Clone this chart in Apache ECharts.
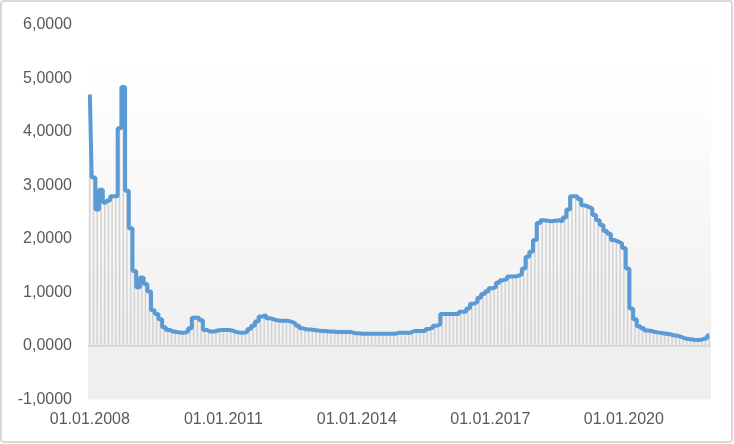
<!DOCTYPE html>
<html>
<head>
<meta charset="utf-8">
<script src="https://cdn.jsdelivr.net/npm/echarts@6/dist/echarts.min.js"></script>
<style>html,body{margin:0;padding:0;background:#fff}#c{width:734px;height:444px}</style>
</head>
<body>
<div id="c"></div>
<script>
// Monthly values, Jan 2008 .. Dec 2021
const startYear = 2008;
const values = [
  // 2008
  4.70, 3.15, 2.55, 2.92, 2.68, 2.72, 2.80, 2.80, 4.07, 4.84, 2.90, 2.20,
  // 2009
  1.40, 1.10, 1.28, 1.16, 1.02, 0.67, 0.60, 0.50, 0.35, 0.30, 0.27, 0.26,
  // 2010
  0.25, 0.25, 0.27, 0.33, 0.53, 0.53, 0.48, 0.30, 0.27, 0.27, 0.29, 0.30,
  // 2011
  0.30, 0.30, 0.29, 0.26, 0.25, 0.25, 0.26, 0.32, 0.38, 0.46, 0.55, 0.58,
  // 2012
  0.52, 0.50, 0.48, 0.47, 0.47, 0.47, 0.45, 0.42, 0.38, 0.33, 0.31, 0.31,
  // 2013
  0.30, 0.29, 0.28, 0.28, 0.27, 0.27, 0.26, 0.26, 0.26, 0.26, 0.26, 0.24,
  // 2014
  0.24, 0.23, 0.23, 0.23, 0.23, 0.23, 0.23, 0.23, 0.23, 0.23, 0.23, 0.25,
  // 2015
  0.25, 0.25, 0.25, 0.28, 0.28, 0.28, 0.28, 0.32, 0.34, 0.38, 0.40, 0.60,
  // 2016
  0.60, 0.60, 0.60, 0.60, 0.64, 0.64, 0.70, 0.79, 0.82, 0.90, 0.97, 1.02,
  // 2017
  1.08, 1.10, 1.18, 1.23, 1.25, 1.30, 1.30, 1.31, 1.34, 1.45, 1.67, 1.76,
  // 2018
  1.98, 2.30, 2.35, 2.34, 2.33, 2.34, 2.35, 2.33, 2.40, 2.55, 2.80, 2.80,
  // 2019
  2.75, 2.63, 2.60, 2.57, 2.45, 2.35, 2.26, 2.15, 2.10, 1.98, 1.95, 1.92,
  // 2020
  1.83, 1.45, 0.70, 0.50, 0.37, 0.33, 0.29, 0.28, 0.26, 0.25, 0.24, 0.23,
  // 2021
  0.22, 0.20, 0.19, 0.17, 0.14, 0.13, 0.12, 0.11, 0.11, 0.13, 0.15, 0.20
];
const yTicks = [-1, 0, 1, 2, 3, 4, 5, 6];

const categories = [];
for (let i = 0; i < values.length; i++) {
  const y = startYear + Math.floor(i / 12);
  const m = (i % 12) + 1;
  categories.push('01.' + (m < 10 ? '0' + m : m) + '.' + y);
}

const chart = echarts.init(document.getElementById('c'), null, {renderer: 'canvas'});
const font = '"Liberation Sans", Arial, sans-serif';
chart.setOption({
  animation: false,
  backgroundColor: '#ffffff',
  graphic: [{
    type: 'rect',
    shape: {x: 1, y: 1, width: 731, height: 441, r: 3},
    style: {fill: 'none', stroke: '#d9d9d9', lineWidth: 2},
    z: 100, silent: true
  }],
  grid: {
    left: 88, right: 23, top: 25, bottom: 44.5,
    show: true, borderWidth: 0,
    backgroundColor: {
      type: 'linear', x: 0, y: 0, x2: 0, y2: 1,
      colorStops: [
        {offset: 0, color: '#ffffff'},
        {offset: 0.1, color: '#ffffff'},
        {offset: 0.857, color: '#f0f0f0'},
        {offset: 0.858, color: '#efefef'},
        {offset: 1, color: '#efefef'}
      ]
    }
  },
  xAxis: {
    type: 'category',
    data: categories,
    boundaryGap: true,
    axisLine: {show: false, onZero: false},
    axisTick: {show: false},
    splitLine: {show: false},
    axisLabel: {
      interval: 35,
      color: '#595959',
      fontSize: 16,
      fontFamily: font,
      margin: 12,
      hideOverlap: false
    }
  },
  yAxis: {
    type: 'value',
    min: yTicks[0],
    max: yTicks[yTicks.length - 1],
    interval: 1,
    axisLine: {show: false},
    axisTick: {show: false},
    splitLine: {show: false},
    axisLabel: {
      color: '#595959',
      fontSize: 16,
      fontFamily: font,
      margin: 16,
      formatter: v => v.toFixed(4).replace('.', ',')
    }
  },
  series: [
    {
      type: 'bar',
      data: values,
      barWidth: 1.5,
      itemStyle: {color: '#d2d2d2'},
      silent: true,
      markLine: {
        silent: true,
        symbol: 'none',
        label: {show: false},
        lineStyle: {color: '#d9d9d9', width: 2, type: 'solid'},
        data: [{yAxis: 0}]
      }
    },
    {
      type: 'line',
      data: values,
      step: 'middle',
      showSymbol: false,
      symbol: 'none',
      lineStyle: {color: '#5b9bd5', width: 4},
      z: 5
    }
  ]
});
</script>
</body>
</html>
